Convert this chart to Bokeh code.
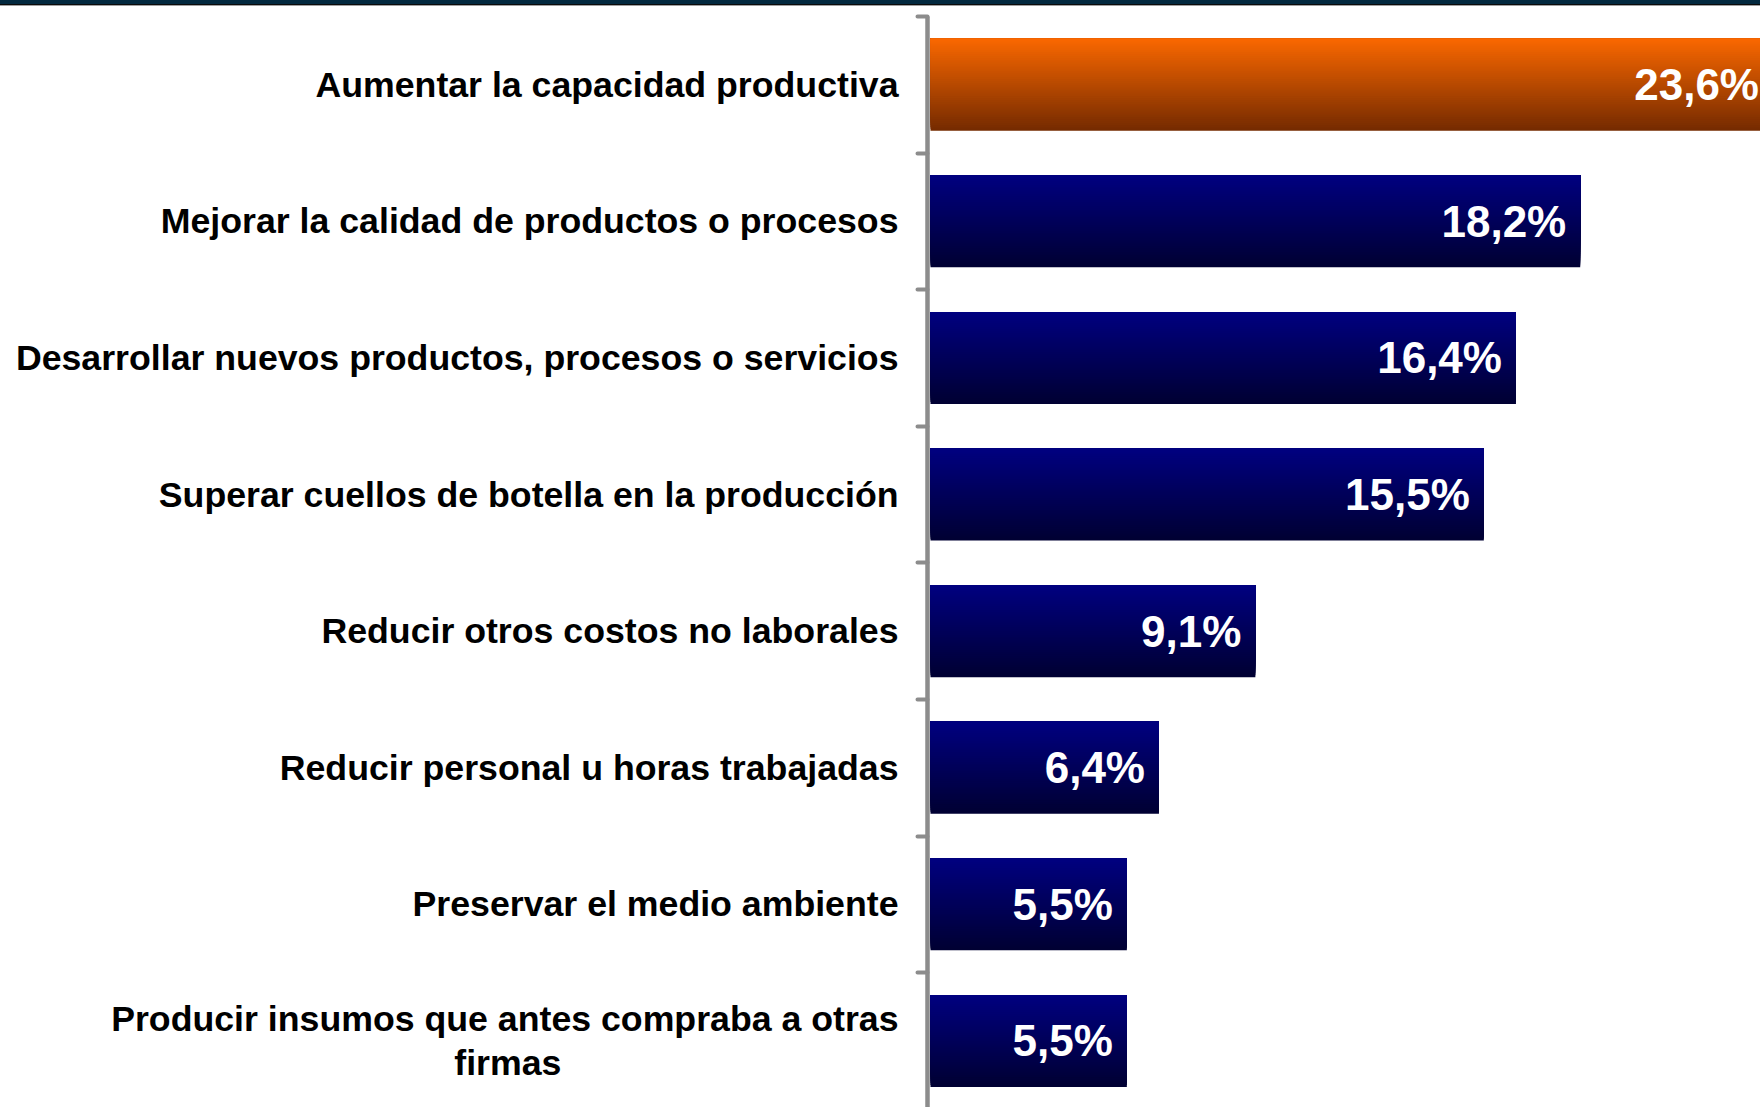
import numpy as np
from bokeh.plotting import figure
from bokeh.layouts import column
from bokeh.models import Range1d, FixedTicker, ColumnDataSource, Div
from bokeh.core.properties import value
from bokeh.embed import file_html
from bokeh.resources import INLINE

# ---------------- data ----------------
categories = [
    "Aumentar la capacidad productiva",
    "Mejorar la calidad de productos o procesos",
    "Desarrollar nuevos productos, procesos o servicios",
    "Superar cuellos de botella en la producción",
    "Reducir otros costos no laborales",
    "Reducir personal u horas trabajadas",
    "Preservar el medio ambiente",
    "Producir insumos que antes compraba a otras\nfirmas",
]
values = [23.6, 18.2, 16.4, 15.5, 9.1, 6.4, 5.5, 5.5]
value_labels = ["23,6%", "18,2%", "16,4%", "15,5%", "9,1%", "6,4%", "5,5%", "5,5%"]
highlight = [True, False, False, False, False, False, False, False]

# ---------------- styling ----------------
BAR_H = 0.673
N_STEPS = 48
BLUE_TOP, BLUE_BOT = (0, 0, 128), (0, 0, 50)
ORANGE_TOP, ORANGE_BOT = (250, 104, 0), (116, 42, 0)
FONT = "Liberation Sans"
NBSP = "\u00a0"

# the two-line label is centred in the reference: pad the short line so it sits centred
axis_labels = []
for c in categories:
    if "\n" in c:
        a, b = c.split("\n")
        b = b + NBSP * 34
        c = a + "\n" + b
    axis_labels.append(c)

positions = list(range(len(categories)))

p = figure(
    width=1760, height=1101,
    x_range=Range1d(-0.084, 23.25),
    y_range=Range1d(7.487, -0.5),
    output_backend="svg", toolbar_location=None,
    min_border_left=927, min_border_right=0,
    min_border_top=10, min_border_bottom=0,
)
p.outline_line_color = None
p.xgrid.visible = False
p.ygrid.visible = False
p.xaxis.visible = False
p.background_fill_color = "white"
p.border_fill_color = "white"


def mix(c1, c2, t):
    return "#%02x%02x%02x" % tuple(int(round(a + (b - a) * t)) for a, b in zip(c1, c2))


# gradient bars: stacked from full height (bottom colour) to thin strips (top colour),
# each anchored at the bar's top edge
for k in range(N_STEPS):
    frac = 1.0 - k / N_STEPS
    t = 1.0 - (k + 0.5) / N_STEPS
    h = BAR_H * frac
    ys = [pos - BAR_H / 2 + h / 2 for pos in positions]
    cols = [mix(ORANGE_TOP, ORANGE_BOT, t) if hl else mix(BLUE_TOP, BLUE_BOT, t) for hl in highlight]
    src = ColumnDataSource(dict(y=ys, right=values, color=cols))
    p.hbar(y="y", left=0, right="right", height=h, fill_color="color",
           line_color=None, source=src)

lab_src = ColumnDataSource(dict(x=values, y=positions, text=value_labels))
p.text(x="x", y="y", text="text", source=lab_src,
       text_align="right", text_baseline="middle", x_offset=-14, y_offset=0,
       text_color="white", text_font=value(FONT), text_font_style="bold",
       text_font_size="44px")

# y axis
yax = p.yaxis[0]
yax.ticker = FixedTicker(ticks=positions, minor_ticks=[i - 0.5 for i in range(len(categories) + 1)])
yax.major_label_overrides = {i: c for i, c in zip(positions, axis_labels)}
yax.axis_line_color = "#8c8c8c"
yax.axis_line_width = 4.5
yax.major_tick_line_color = None
yax.major_tick_out = 0
yax.major_tick_in = 0
yax.minor_tick_line_color = "#8c8c8c"
yax.minor_tick_line_width = 4
yax.minor_tick_line_cap = "round"
yax.minor_tick_out = 10
yax.minor_tick_in = 0
yax.major_label_standoff = 19
yax.major_label_text_font = FONT
yax.major_label_text_font_style = "bold"
yax.major_label_text_font_size = "35.7px"
yax.major_label_text_color = "black"
yax.major_label_text_line_height = 1.12

band = Div(text="", width=1760, height=6, margin=0,
           styles={"background": "linear-gradient(to bottom, #03293f 0px, #03293f 4px, #0b0b0b 4px, #0b0b0b 5px, #a0a0a0 5px, #a0a0a0 6px)"})

layout = column(band, p, spacing=0)
open("out.html", "w").write(file_html(layout, INLINE))
